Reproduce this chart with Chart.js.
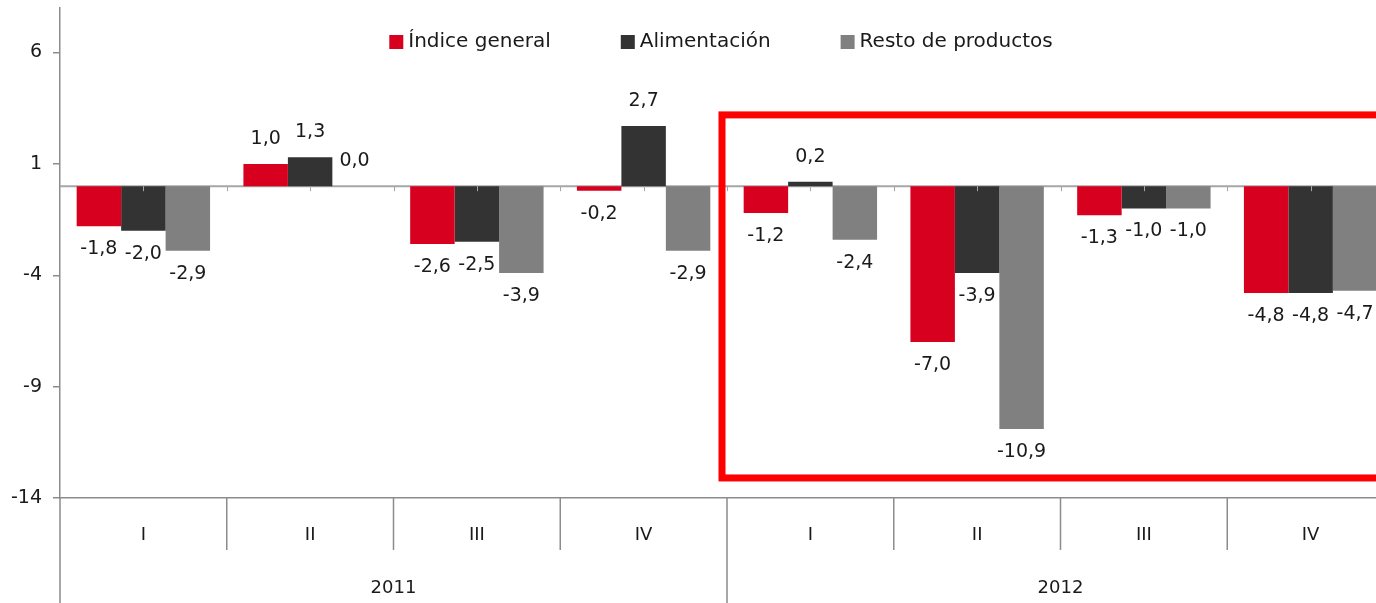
<!DOCTYPE html>
<html>
<head>
<meta charset="utf-8">
<script src="https://cdn.jsdelivr.net/npm/chart.js@4.4.0/dist/chart.umd.min.js"></script>
<style>
  html, body { margin: 0; padding: 0; background: #fff; overflow: hidden; }
  #wrap { width: 1400px; height: 603px; }
</style>
</head>
<body>
<div id="wrap"><canvas id="chart" width="1400" height="603"></canvas></div>
<script>
var quarters = ['I', 'II', 'III', 'IV', 'I', 'II', 'III', 'IV'];
var years = ['2011', '2012'];
var indiceGeneral = [-1.8, 1.0, -2.6, -0.2, -1.2, -7.0, -1.3, -4.8];
var alimentacion = [-2.0, 1.3, -2.5, 2.7, 0.2, -3.9, -1.0, -4.8];
var restoProductos = [-2.9, 0.0, -3.9, -2.9, -2.4, -10.9, -1.0, -4.7];
var yTicks = [-14, -9, -4, 1, 6];
// highlight frame round the 2012 block (data units)
var boxTop = 3.2, boxBottom = -13.1;

var FONT = '"DejaVu Sans", sans-serif';
var AXIS = '#8c8c8c';

var extras = {
  id: 'extras',
  beforeDatasetsDraw(chart) {
    const { ctx, chartArea: { left, right }, scales: { y } } = chart;
    const y0 = y.getPixelForValue(0);
    ctx.save();
    ctx.strokeStyle = '#a6a6a6';
    ctx.lineWidth = 2;
    ctx.beginPath();
    ctx.moveTo(left, y0);
    ctx.lineTo(right, y0);
    ctx.stroke();
    ctx.restore();
  },
  afterDatasetsDraw(chart) {
    const { ctx, chartArea: { left, right }, scales: { y } } = chart;
    const y0 = y.getPixelForValue(0);
    const step = (right - left) / quarters.length / 2;
    ctx.save();
    // small tick marks on the zero axis
    ctx.strokeStyle = '#a6a6a6';
    ctx.lineWidth = 1;
    ctx.beginPath();
    for (let i = 1; i < quarters.length * 2; i++) {
      const xx = Math.round(left + i * step) + 0.5;
      ctx.moveTo(xx, y0);
      ctx.lineTo(xx, y0 + 5);
    }
    ctx.stroke();

    // value labels
    ctx.font = '19px ' + FONT;
    ctx.fillStyle = '#1a1a1a';
    ctx.textAlign = 'center';
    ctx.textBaseline = 'middle';
    chart.data.datasets.forEach((ds, di) => {
      const meta = chart.getDatasetMeta(di);
      meta.data.forEach((bar, i) => {
        const v = ds.data[i];
        const txt = v.toFixed(1).replace('.', ',');
        const ty = v >= 0 ? Math.min(bar.y, y0) - 25 : bar.y + 23;
        ctx.fillText(txt, bar.x, ty);
      });
    });
    ctx.restore();
  },
  afterDraw(chart) {
    const { ctx, chartArea: { left, right, top, bottom }, scales: { x, y } } = chart;
    const H = chart.height;
    const w = (right - left) / quarters.length;
    ctx.save();
    ctx.strokeStyle = AXIS;
    ctx.lineWidth = 1.5;
    ctx.beginPath();
    for (let i = 0; i <= quarters.length; i++) {
      const xx = left + i * w;
      ctx.moveTo(xx, bottom);
      ctx.lineTo(xx, i % 4 === 0 ? H : x.bottom);
    }
    ctx.stroke();

    // red frame
    const bx = left + 4 * w - 5;
    const by1 = y.getPixelForValue(boxTop);
    const by2 = y.getPixelForValue(boxBottom);
    ctx.strokeStyle = '#ff0000';
    ctx.lineWidth = 7;
    ctx.strokeRect(bx, by1, chart.width + 20 - bx, by2 - by1);

    // legend
    ctx.font = '20px ' + FONT;
    ctx.textBaseline = 'middle';
    ctx.textAlign = 'left';
    const gap = 70, box = 14;
    const items = chart.data.datasets.map(ds => ({ label: ds.label, color: ds.backgroundColor, tw: ctx.measureText(ds.label).width }));
    let total = 0;
    items.forEach((it, i) => { total += box + 5 + it.tw + (i < items.length - 1 ? gap : 0); });
    let lx = (left + right) / 2 - total / 2 - 6;
    const ly = 42;
    items.forEach(it => {
      ctx.fillStyle = it.color;
      ctx.fillRect(lx, ly - box / 2, box, box);
      ctx.fillStyle = '#1a1a1a';
      ctx.fillText(it.label, lx + box + 5, ly);
      lx += box + 5 + it.tw + gap;
    });
    ctx.restore();
  }
};

new Chart(document.getElementById('chart'), {
  type: 'bar',
  data: {
    labels: quarters,
    datasets: [
      { label: 'Índice general', data: indiceGeneral, backgroundColor: '#d7001e' },
      { label: 'Alimentación', data: alimentacion, backgroundColor: '#333333' },
      { label: 'Resto de productos', data: restoProductos, backgroundColor: '#808080' }
    ]
  },
  options: {
    responsive: false,
    animation: false,
    layout: { padding: { top: 8, right: 6, bottom: 0, left: 0 } },
    datasets: { bar: { barPercentage: 1, categoryPercentage: 0.8, borderWidth: 0 } },
    plugins: { legend: { display: false }, tooltip: { enabled: false } },
    scales: {
      x: {
        position: 'bottom',
        grid: { display: false },
        border: { display: true, color: AXIS, width: 1.5 },
        ticks: { font: { size: 18, family: FONT }, color: '#1a1a1a', padding: 19 },
        afterFit(s) { s.height = 52; }
      },
      x2: {
        type: 'category',
        labels: years,
        position: 'bottom',
        grid: { display: false },
        border: { display: false },
        ticks: { font: { size: 18, family: FONT }, color: '#1a1a1a', padding: 20 },
        afterFit(s) { s.height = 53; }
      },
      y: {
        min: -14,
        max: 8,
        afterBuildTicks(s) { s.ticks = yTicks.map(v => ({ value: v })); },
        grid: { drawOnChartArea: false, drawTicks: true, tickLength: 7, color: AXIS, lineWidth: 1.5 },
        border: { display: true, color: AXIS, width: 1.5 },
        ticks: { font: { size: 19, family: FONT }, color: '#1a1a1a', padding: 11 },
        afterFit(s) { s.width = 60; s.paddingTop = 0; s.paddingBottom = 0; }
      }
    }
  },
  plugins: [extras]
});
</script>
</body>
</html>
